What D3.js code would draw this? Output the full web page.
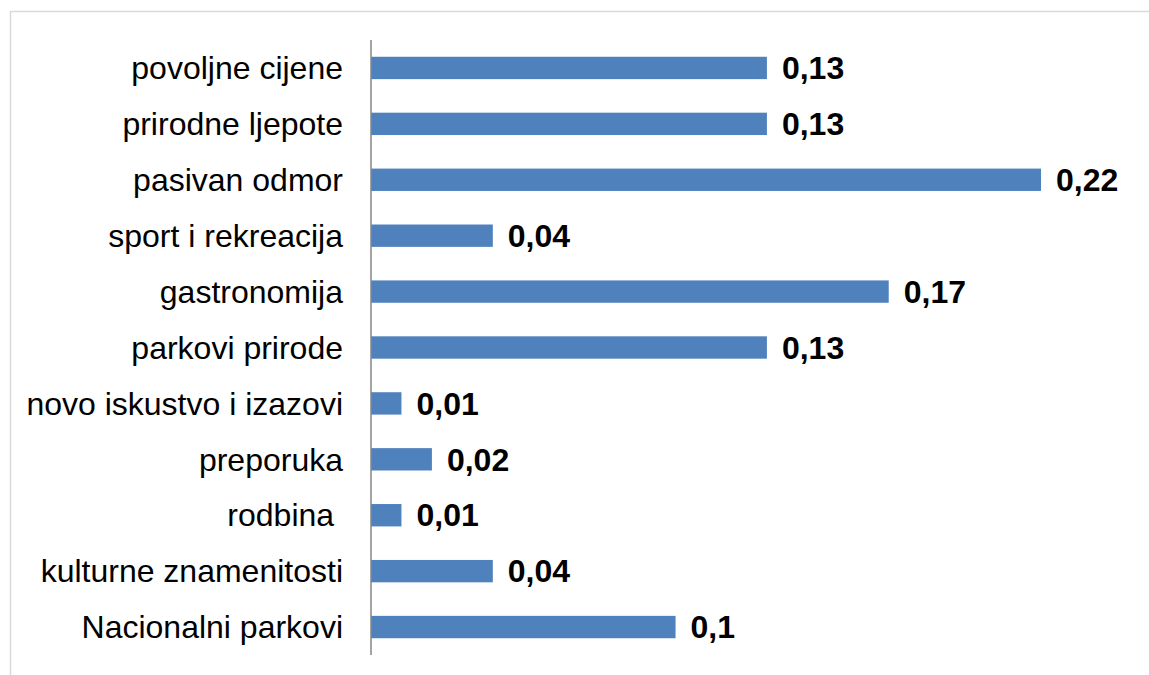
<!DOCTYPE html>
<html>
<head>
<meta charset="utf-8">
<script src="https://cdn.jsdelivr.net/npm/d3@7"></script>
<style>
  html, body { margin: 0; padding: 0; background: #ffffff; }
  svg { display: block; }
</style>
</head>
<body>
<svg id="chart" width="1149" height="675"></svg>
<script>
const categories = [
  "povoljne cijene",
  "prirodne ljepote",
  "pasivan odmor",
  "sport i rekreacija",
  "gastronomija",
  "parkovi prirode",
  "novo iskustvo i izazovi",
  "preporuka",
  "rodbina ",
  "kulturne znamenitosti",
  "Nacionalni parkovi"
];
const values = [0.13, 0.13, 0.22, 0.04, 0.17, 0.13, 0.01, 0.02, 0.01, 0.04, 0.1];

const svg = d3.select("#chart");

// outer frame
svg.append("rect")
  .attr("x", 10.5).attr("y", 11.5)
  .attr("width", 1300).attr("height", 800)
  .attr("fill", "none")
  .attr("stroke", "#d9d9d9")
  .attr("stroke-width", 1.5);

const x = d3.scaleLinear().domain([0, 0.22]).range([371, 1041]);
const y = d3.scaleBand().domain(categories).range([40, 655])
  .paddingInner(0.6).paddingOuter(0.3);

const font = "'Liberation Sans', Arial, sans-serif";

// bars
svg.append("g").selectAll("rect")
  .data(values)
  .join("rect")
  .attr("x", x(0))
  .attr("y", (d, i) => y(categories[i]))
  .attr("width", d => x(d) - x(0))
  .attr("height", y.bandwidth())
  .attr("fill", "#4f81bd");

// category axis
const axis = d3.axisLeft(y).tickSize(0).tickPadding(28);
const gAxis = svg.append("g")
  .attr("transform", `translate(${x(0)},0)`)
  .call(axis);
gAxis.select(".domain")
  .attr("d", `M0,40V655`)
  .attr("stroke", "#868686")
  .attr("stroke-width", 1.5);
gAxis.selectAll("text")
  .attr("font-family", font)
  .attr("font-size", 32)
  .attr("fill", "#000")
  .attr("dy", "0.35em")
  .style("white-space", "pre");

// value labels
svg.append("g").selectAll("text")
  .data(values)
  .join("text")
  .attr("x", d => x(d) + 15)
  .attr("y", (d, i) => y(categories[i]) + y.bandwidth() / 2)
  .attr("dy", "0.35em")
  .attr("font-family", font)
  .attr("font-size", 32)
  .attr("font-weight", "bold")
  .attr("fill", "#000")
  .text(d => String(d).replace(".", ","));
</script>
</body>
</html>
